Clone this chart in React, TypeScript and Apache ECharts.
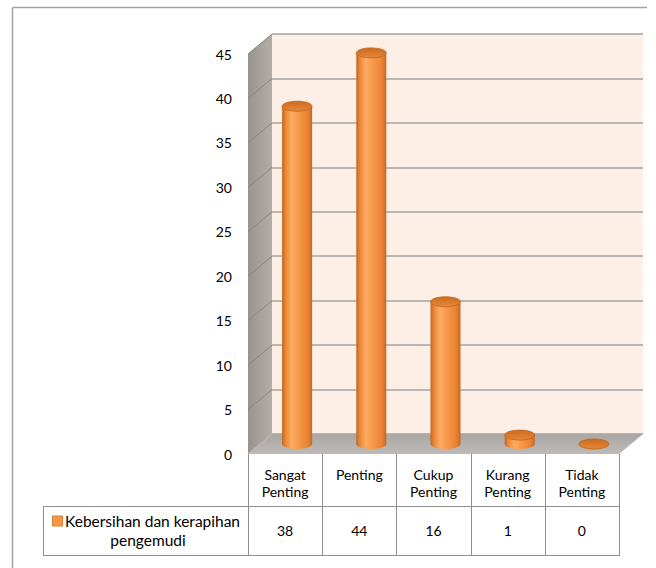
import React, { useEffect, useRef } from 'react';
import * as echarts from 'echarts';

// Survey answers for one questionnaire item
const categories = ['Sangat\nPenting', 'Penting', 'Cukup\nPenting', 'Kurang\nPenting', 'Tidak\nPenting'];
const values = [38, 44, 16, 1, 0];
const legendLines = ['Kebersihan dan kerapihan', 'pengemudi'];
const seriesName = legendLines.join(' ');
const yMin = 0;
const yMax = 45;
const yStep = 5;

// 3D box: the front plane of the plot and the depth offset of the back wall
const FRONT = { left: 248, top: 54, width: 371, height: 400 };
const DEPTH_X = 24;
const DEPTH_Y = -20;
const FONT = 'Lato, "Open Sans", sans-serif';
const FONT_SIZE = 14;
const LINE = '#8f8f8f';

const bodyFill = {
  type: 'linear', x: 0, y: 0, x2: 1, y2: 0,
  colorStops: [
    { offset: 0, color: '#c4641c' },
    { offset: 0.12, color: '#ea8937' },
    { offset: 0.32, color: '#fbab62' },
    { offset: 0.55, color: '#f7994a' },
    { offset: 0.85, color: '#e98333' },
    { offset: 1, color: '#c6681f' },
  ],
};
const capFill = {
  type: 'linear', x: 0, y: 0, x2: 0, y2: 1,
  colorStops: [
    { offset: 0, color: '#cc6b1f' },
    { offset: 1, color: '#e5873a' },
  ],
};

export default function App() {
  const ref = useRef<HTMLDivElement>(null);

  useEffect(() => {
    const chart = echarts.init(ref.current!, null, { renderer: 'svg' });
    const plane = (k: number) => ({
      left: FRONT.left + DEPTH_X * k,
      top: FRONT.top + DEPTH_Y * k,
      width: FRONT.width,
      height: FRONT.height,
    });
    const front = plane(0);
    const mid = plane(0.5);
    const back = plane(1);

    const hiddenCat = (gridIndex: number) => ({
      type: 'category', gridIndex, data: categories, show: false, boundaryGap: true,
    });
    const hiddenVal = (gridIndex: number) => ({
      type: 'value', gridIndex, min: yMin, max: yMax, interval: yStep, show: false,
    });

    chart.setOption({
      animation: false,
      backgroundColor: '#ffffff',
      grid: [
        { ...front },
        { ...mid },
        { ...back, show: true, backgroundColor: '#fdeee6', borderWidth: 0 },
      ],
      xAxis: [
        {
          type: 'category', gridIndex: 0, data: categories, boundaryGap: true,
          axisLine: { show: false }, axisTick: { show: false },
          axisLabel: {
            interval: 0, verticalAlign: 'top', margin: 12, lineHeight: 17,
            color: '#000', fontFamily: FONT, fontSize: FONT_SIZE,
          },
        },
        hiddenCat(1),
        hiddenCat(2),
      ],
      yAxis: [
        {
          type: 'value', gridIndex: 0, min: yMin, max: yMax, interval: yStep,
          axisLine: { show: false }, axisTick: { show: false }, splitLine: { show: false },
          axisLabel: {
            margin: 16, color: '#000', fontFamily: FONT, fontSize: FONT_SIZE,
            padding: [4, 0, 0, 0],
          },
        },
        hiddenVal(1),
        {
          type: 'value', gridIndex: 2, min: yMin, max: yMax, interval: yStep,
          axisLine: { show: false }, axisTick: { show: false }, axisLabel: { show: false },
          splitLine: { show: true, lineStyle: { color: '#a3a3a3', width: 1.5 } },
        },
      ],
      series: [
        {
          type: 'custom',
          name: seriesName,
          xAxisIndex: 1,
          yAxisIndex: 1,
          z: 5,
          data: values.map((v, i) => [i, v]),
          renderItem: (_params: any, api: any) => {
            const i = api.value(0);
            const v = api.value(1);
            const base = api.coord([i, 0]);
            const top = api.coord([i, v]);
            const rx = 15;
            const ry = 5;
            const cx = base[0];
            return {
              type: 'group',
              children: [
                { type: 'ellipse', shape: { cx, cy: base[1], rx, ry }, style: { fill: bodyFill } },
                {
                  type: 'rect',
                  shape: { x: cx - rx, y: top[1], width: 2 * rx, height: base[1] - top[1] },
                  style: { fill: bodyFill },
                },
                {
                  type: 'ellipse', shape: { cx, cy: top[1], rx, ry },
                  style: { fill: capFill, stroke: '#c2641b', lineWidth: 0.8 },
                },
              ],
            };
          },
        },
      ],
    });

    // Walls, floor and data table built from the axes' own scales
    const yF = (v: number) => chart.convertToPixel({ yAxisIndex: 0 }, v) as number;
    const yB = (v: number) => chart.convertToPixel({ yAxisIndex: 2 }, v) as number;
    const xF = (i: number) => chart.convertToPixel({ xAxisIndex: 0 }, i) as number;
    const band = front.width / categories.length;
    const fl = front.left;
    const fr = front.left + front.width;
    const bl = back.left;
    const br = back.left + back.width;
    const f0 = yF(yMin);
    const b0 = yB(yMin);

    const headerBottom = 506;
    const rowBottom = 555;
    const rowLeft = 43;
    const rowMid = (headerBottom + rowBottom) / 2;

    const graphics: any[] = [];
    // chart frame
    graphics.push({ type: 'line', z: 1, shape: { x1: 12.5, y1: 7.5, x2: 647, y2: 7.5 }, style: { stroke: '#a3a3a3', lineWidth: 1.5 } });
    graphics.push({ type: 'line', z: 1, shape: { x1: 12.5, y1: 7.5, x2: 12.5, y2: 568 }, style: { stroke: '#a3a3a3', lineWidth: 1.5 } });

    // side wall
    graphics.push({
      type: 'polygon', z: 1,
      shape: { points: [[fl, yF(yMax)], [bl, yB(yMax)], [bl, b0], [fl, f0]] },
      style: {
        fill: {
          type: 'linear', x: 0, y: 0, x2: 1, y2: 0,
          colorStops: [{ offset: 0, color: '#9a938d' }, { offset: 1, color: '#b3ada8' }],
        },
      },
    });
    for (let v = yMin + yStep; v <= yMax; v += yStep) {
      graphics.push({
        type: 'line', z: 1,
        shape: { x1: fl, y1: yF(v), x2: bl, y2: yB(v) },
        style: { stroke: '#8a847f', lineWidth: 1 },
      });
    }
    // floor
    graphics.push({
      type: 'polygon', z: 1,
      shape: { points: [[fl, f0], [bl, b0], [br, b0], [fr, f0]] },
      style: {
        fill: {
          type: 'linear', x: 0, y: 0, x2: 0, y2: 1,
          colorStops: [{ offset: 0, color: '#a9a6a3' }, { offset: 1, color: '#bdbab7' }],
        },
      },
    });

    // data table grid lines
    for (let i = 0; i <= categories.length; i++) {
      const x = Math.round(fl + band * i) + 0.5;
      graphics.push({ type: 'line', z: 1, shape: { x1: x, y1: f0, x2: x, y2: rowBottom }, style: { stroke: LINE, lineWidth: 1 } });
    }
    graphics.push({ type: 'line', z: 1, shape: { x1: rowLeft + 0.5, y1: headerBottom, x2: rowLeft + 0.5, y2: rowBottom }, style: { stroke: LINE, lineWidth: 1 } });
    graphics.push({ type: 'line', z: 1, shape: { x1: rowLeft, y1: headerBottom + 0.5, x2: Math.round(fr) + 1, y2: headerBottom + 0.5 }, style: { stroke: LINE, lineWidth: 1 } });
    graphics.push({ type: 'line', z: 1, shape: { x1: rowLeft, y1: rowBottom + 0.5, x2: Math.round(fr) + 1, y2: rowBottom + 0.5 }, style: { stroke: LINE, lineWidth: 1 } });

    // data table values
    values.forEach((v, i) => {
      graphics.push({
        type: 'text', z: 2, x: xF(i), y: rowMid,
        style: { text: String(v), fill: '#000', font: `${FONT_SIZE}px ${FONT}`, align: 'center', verticalAlign: 'middle' },
      });
    });
    // legend key cell
    graphics.push({
      type: 'text', z: 2, x: (rowLeft + fl) / 2 + 1, y: rowMid,
      style: {
        text: `{sq|}{t|${legendLines[0]}}\n{t|${legendLines[1]}}`,
        align: 'center', verticalAlign: 'middle',
        rich: {
          sq: {
            width: 9, height: 9, backgroundColor: '#f79646', borderColor: '#d98237', borderWidth: 1,
            verticalAlign: 'middle',
          },
          t: {
            fill: '#000', fontFamily: FONT, fontSize: 15.5, lineHeight: 19,
            padding: [0, 0, 0, 3], verticalAlign: 'middle',
          },
        },
      },
    });

    chart.setOption({ graphic: graphics });

    return () => chart.dispose();
  }, []);

  return (
    <div
      ref={ref}
      style={{ position: 'fixed', left: 0, top: 0, width: 656, height: 568, background: '#fff' }}
    />
  );
}
